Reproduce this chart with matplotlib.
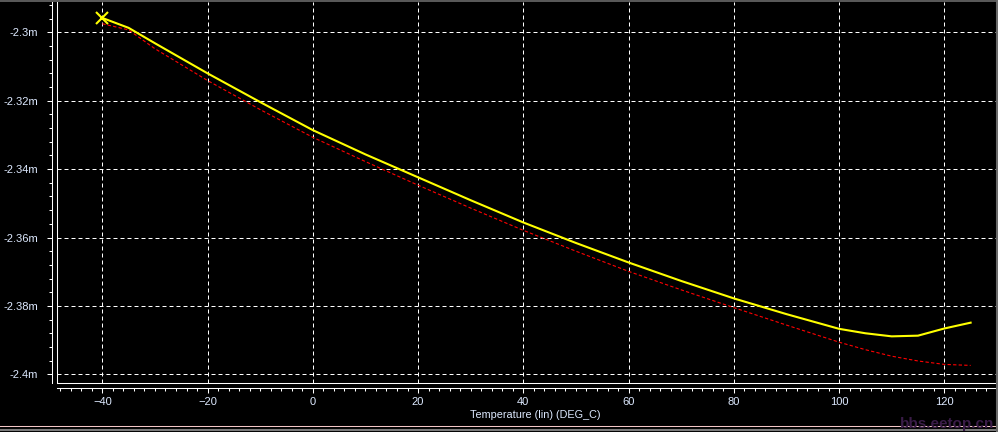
import numpy as np
import matplotlib
matplotlib.use("Agg")
import matplotlib.pyplot as plt
from matplotlib.lines import Line2D
from matplotlib.ticker import MultipleLocator

# temperature sweep (DEG_C) and output (mV, labelled with "m")
temp = [-40, -35, -30, -20, -10, 0, 10, 20, 30, 40, 50, 60, 70, 80, 90,
        100, 105, 110, 115, 120, 125]
yellow = [-2.2958, -2.2987, -2.3032, -2.3120, -2.3204, -2.3286, -2.3357,
          -2.3424, -2.3491, -2.3556, -2.3616, -2.3673, -2.3727, -2.3778,
          -2.3824, -2.3867, -2.3880, -2.3889, -2.3887, -2.3866, -2.3849]
red = [-2.2975, -2.2993, -2.3048, -2.3141, -2.3226, -2.3307, -2.3378,
       -2.3447, -2.3514, -2.3579, -2.3640, -2.3699, -2.3753, -2.3805,
       -2.3856, -2.3906, -2.3928, -2.3947, -2.3961, -2.3971, -2.3974]

x_ticks = [-40, -20, 0, 20, 40, 60, 80, 100, 120]
y_ticks = [-2.30, -2.32, -2.34, -2.36, -2.38, -2.40]
y_tick_labels = ["-2.3m", "-2.32m", "-2.34m", "-2.36m", "-2.38m", "-2.4m"]
x_label = "Temperature (lin) (DEG_C)"
watermark = "bbs.eetop.cn"

W, H = 998, 432
label_col = "#dde9ff"
plt.rcParams["font.family"] = ["Liberation Sans", "DejaVu Sans"]

fig = plt.figure(figsize=(W / 100, H / 100), dpi=100, facecolor="black")
ax = fig.add_axes([57 / W, 49 / H, (996 - 57) / W, (383 - 2) / H])
ax.set_facecolor("black")

ax.plot(temp, red, color="#ff0000", lw=0.8, ls=(0, (3, 2)))
ax.plot(temp, yellow, color="#ffff00", lw=1.5)
ax.plot(temp[0], yellow[0], marker="x", color="#ffff00", ms=8, mew=1.5)

ax.set_xlim(-48.61, 129.82)
ax.set_ylim(-2.40254, -2.29114)

ax.set_xticks(x_ticks)
ax.set_yticks(y_ticks)
ax.set_yticklabels(y_tick_labels)
ax.xaxis.set_minor_locator(MultipleLocator(2))
ax.yaxis.set_minor_locator(MultipleLocator(0.004))

ax.grid(True, which="major", color="white", lw=0.72, ls=(0, (4, 3)))

for s in ["top", "right"]:
    ax.spines[s].set_visible(False)
for s in ["left", "bottom"]:
    ax.spines[s].set_color("white")
    ax.spines[s].set_linewidth(0.75)
    ax.spines[s].set_position(("outward", 3.6))

ax.tick_params(which="major", colors="white", labelcolor=label_col,
               labelsize=8, width=0.75, length=3.6)
ax.tick_params(which="minor", colors="white", width=0.75, length=2.2)
ax.tick_params(axis="y", which="major", pad=6.5)
ax.tick_params(axis="x", which="major", pad=3)

# inner frame of the plot area
ax.plot([0, 0], [0, 1], transform=ax.transAxes, color="white", lw=0.75,
        clip_on=False)
ax.plot([0, 1], [0, 0], transform=ax.transAxes, color="white", lw=0.75,
        clip_on=False)

fig.text(535 / W, 1 - 415 / H, x_label, color=label_col, fontsize=7.8,
         ha="center", va="center")

# window borders
fig.add_artist(Line2D([0, 1], [1 - 425.5 / H] * 2, color="#f2c6c6", lw=0.75))
fig.add_artist(Line2D([0, 1], [1 - 430 / H] * 2, color="#7a7a7a", lw=1.5))
fig.add_artist(Line2D([0, 1], [1 - 0.8 / H] * 2, color="#6a6a6a", lw=1.2))
fig.add_artist(Line2D([1 - 1.2 / W] * 2, [0, 1], color="#6a6a6a", lw=1.5))

fig.text(994 / W, 1 - 428 / H, watermark, color="#3a1c48", fontsize=11,
         fontweight="bold", ha="right", va="baseline")

fig.savefig("out.png", dpi=100, facecolor="black")
